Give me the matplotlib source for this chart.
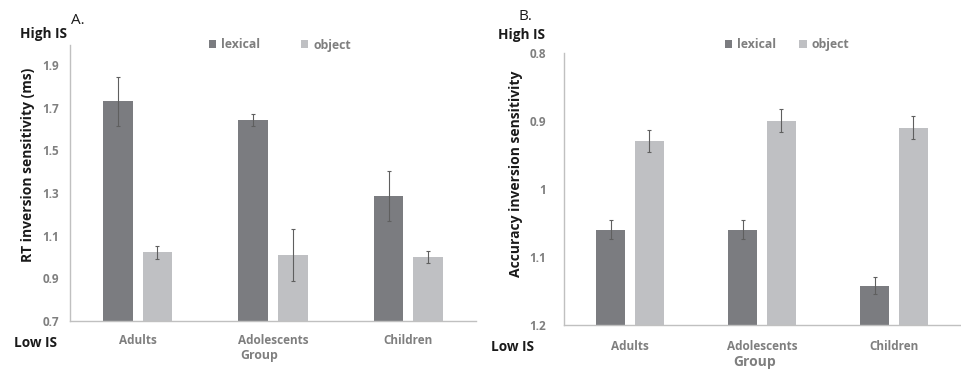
import matplotlib
matplotlib.use("Agg")
import matplotlib.pyplot as plt
import numpy as np

plt.rcParams['font.family'] = ['Open Sans', 'DejaVu Sans']

groups = ['Adults', 'Adolescents', 'Children']

# RT inversion sensitivity (ms)
rt_lexical = [1.73, 1.642, 1.286]
rt_lexical_err = [0.115, 0.028, 0.118]
rt_object = [1.023, 1.009, 1.0]
rt_object_err = [0.03, 0.12, 0.03]

# accuracy inversion sensitivity
acc_lexical = [1.06, 1.06, 1.142]
acc_lexical_err = [0.014, 0.014, 0.013]
acc_object = [0.930, 0.900, 0.910]
acc_object_err = [0.016, 0.017, 0.017]

dark = '#7b7c80'
light = '#bfc0c3'
tick_grey = '#7f7f7f'
err_col = '#5f5f5f'
spine_col = '#c0c0c0'
ink = '#1a1a1a'

fig = plt.figure(figsize=(9.62, 3.69), dpi=100)
axA = fig.add_axes([70/962, 1-321/369, 406/962, 276/369])
axB = fig.add_axes([564/962, 1-325/369, 396/962, 272.3/369])

x = np.arange(len(groups))
w = 0.22
off = 0.146


def style(ax):
    for s in ['top', 'right']:
        ax.spines[s].set_visible(False)
    for s in ['left', 'bottom']:
        ax.spines[s].set_color(spine_col)
        ax.spines[s].set_linewidth(1.0)
    ax.tick_params(axis='both', length=0, colors=tick_grey, labelsize=8.5)
    for lab in ax.get_xticklabels() + ax.get_yticklabels():
        lab.set_fontweight('bold')
    ax.set_xlim(-0.5, len(groups) - 0.5)


ekw = dict(ecolor=err_col, elinewidth=0.8, capsize=1.6, capthick=0.8)
leg_kw = dict(loc='center', ncol=2, frameon=False, handlelength=0.6,
              handleheight=0.6, handletextpad=0.4,
              prop={'weight': 'bold', 'size': 8.8}, labelcolor=tick_grey)

# panel A
b1 = axA.bar(x - off, np.array(rt_lexical) - 0.7, w, bottom=0.7, color=dark,
             yerr=rt_lexical_err, error_kw=ekw, label='lexical')
b2 = axA.bar(x + off, np.array(rt_object) - 0.7, w, bottom=0.7, color=light,
             yerr=rt_object_err, error_kw=ekw, label='object')
axA.set_ylim(0.7, 1.994)
axA.set_yticks([0.7, 0.9, 1.1, 1.3, 1.5, 1.7, 1.9])
axA.set_yticklabels(['0.7', '0.9', '1.1', '1.3', '1.5', '1.7', '1.9'])
axA.set_xticks(x)
axA.set_xticklabels(groups)
style(axA)
axA.tick_params(axis='x', pad=9)
axA.tick_params(axis='y', pad=8)
axA.legend(handles=[b1, b2], bbox_to_anchor=(0.517, 1.0), columnspacing=3.3,
           **leg_kw)

# panel B (inverted axis)
c1 = axB.bar(x - off, np.array(acc_lexical) - 1.2, w, bottom=1.2, color=dark,
             yerr=acc_lexical_err, error_kw=ekw, label='lexical')
c2 = axB.bar(x + off, np.array(acc_object) - 1.2, w, bottom=1.2, color=light,
             yerr=acc_object_err, error_kw=ekw, label='object')
axB.set_ylim(1.2, 0.8)
axB.set_yticks([0.8, 0.9, 1.0, 1.1, 1.2])
axB.set_yticklabels(['0.8', '0.9', '1', '1.1', '1.2'])
axB.set_xticks(x)
axB.set_xticklabels(groups)
style(axB)
axB.tick_params(axis='x', pad=11)
axB.tick_params(axis='y', pad=13)
axB.legend(handles=[c1, c2], bbox_to_anchor=(0.563, 1.03), columnspacing=1.9,
           **leg_kw)

# axis titles
fig.text(28/962, 1-165/369, 'RT inversion sensitivity (ms)', rotation=90,
         ha='center', va='center', fontsize=10, fontweight='bold', color=ink)
fig.text(516/962, 1-174/369, 'Accuracy inversion sensitivity', rotation=90,
         ha='center', va='center', fontsize=10, fontweight='bold', color=ink)
fig.text(259/962, 1-355/369, 'Group', ha='center', va='center', fontsize=8.8,
         fontweight='bold', color=tick_grey)
fig.text(755/962, 1-362/369, 'Group', ha='center', va='center', fontsize=10,
         fontweight='bold', color=tick_grey)

# scale direction markers and panel letters
fig.text(44/962, 1-34/369, 'High IS', ha='center', va='center', fontsize=9.8,
         fontweight='bold', color=ink)
fig.text(35/962, 1-343/369, 'Low IS', ha='center', va='center', fontsize=9.8,
         fontweight='bold', color=ink)
fig.text(78/962, 1-20/369, 'A.', ha='center', va='center', fontsize=11,
         color=ink)
fig.text(522/962, 1-35/369, 'High IS', ha='center', va='center', fontsize=9.8,
         fontweight='bold', color=ink)
fig.text(513/962, 1-347/369, 'Low IS', ha='center', va='center', fontsize=9.8,
         fontweight='bold', color=ink)
fig.text(525/962, 1-17/369, 'B.', ha='center', va='center', fontsize=11,
         color=ink)

fig.savefig('out.png', dpi=100)
